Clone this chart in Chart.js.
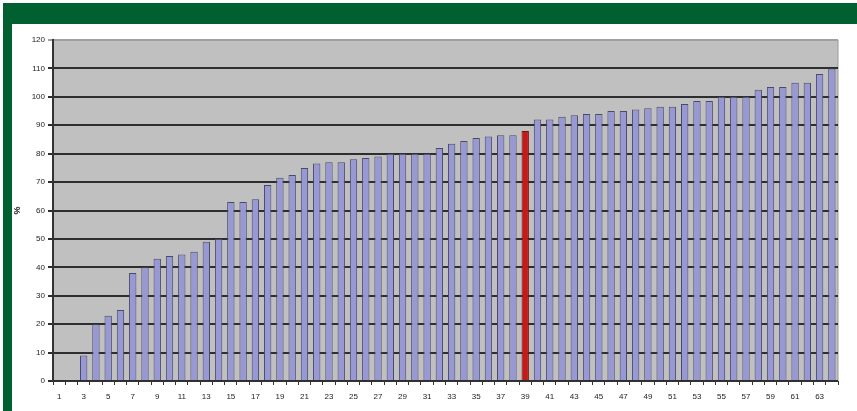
<!DOCTYPE html>
<html>
<head>
<meta charset="utf-8">
<script src="https://cdn.jsdelivr.net/npm/chart.js@4"></script>
<style>
  body { margin: 0; background: #fff; }
  #frame {
    position: absolute; left: 3px; top: 3px;
    width: 845px; height: 387px;
    border-top: 21px solid #006030;
    border-left: 9px solid #006030;
    background: #fff;
  }
  #wrap { position: absolute; left: 0; top: 0; width: 845px; height: 387px; }
</style>
</head>
<body>
<div id="frame"><div id="wrap"><canvas id="barChart"></canvas></div></div>
<script>
// categories 1..64 (only odd ones are labelled on the axis)
var categories = [];
for (var i = 1; i <= 64; i++) categories.push(String(i));

// values in %
var values = [0, 0, 9, 20, 23, 25, 38, 40, 43, 44,
              44.5, 45.5, 49, 50, 63, 63, 64, 69, 71.5, 72.5,
              75, 76.5, 77, 77, 78, 78.5, 79, 80, 80, 80,
              80, 82, 83.5, 84.5, 85.5, 86, 86.5, 86.5, 88, 92,
              92, 93, 93.5, 94, 94, 95, 95, 95.5, 96, 96.5,
              96.5, 97.5, 98.5, 98.5, 100, 100, 100, 102.5, 103.5, 103.5,
              105, 105, 108, 110];

var highlighted = "39";
var yTicks = [0, 10, 20, 30, 40, 50, 60, 70, 80, 90, 100, 110, 120];

var fillColors = categories.map(function (c) { return c === highlighted ? '#c41a1a' : '#9898d4'; });
var edgeColors = categories.map(function (c) { return c === highlighted ? '#7a1010' : '#4a4a68'; });

// gray plot background
var plotBg = {
    id: 'plotBg',
    beforeDraw: function (chart) {
        var a = chart.chartArea, ctx = chart.ctx;
        ctx.save();
        ctx.fillStyle = '#c0c0c0';
        ctx.fillRect(a.left, a.top, a.right - a.left, a.bottom - a.top);
        ctx.strokeStyle = '#9a9a9a';
        ctx.lineWidth = 1;
        ctx.beginPath();
        ctx.moveTo(a.right, a.top);
        ctx.lineTo(a.right, a.bottom);
        ctx.stroke();
        ctx.restore();
    }
};

var ctx = document.getElementById('barChart').getContext('2d');
var chart = new Chart(ctx, {
    type: 'bar',
    data: {
        labels: categories,
        datasets: [{
            data: values,
            backgroundColor: fillColors,
            borderColor: edgeColors,
            borderWidth: 1,
            barPercentage: 0.6,
            categoryPercentage: 1.0
        }]
    },
    options: {
        responsive: true,
        maintainAspectRatio: false,
        animation: false,
        layout: { padding: { left: 0, top: 16, right: 19, bottom: 0 } },
        plugins: { legend: { display: false }, tooltip: { enabled: false } },
        scales: {
            x: {
                afterFit: function (s) { s.height = 30; },
                grid: { display: true, drawOnChartArea: false, color: '#333', tickLength: 4 },
                border: { color: '#333', width: 1 },
                ticks: {
                    autoSkip: false,
                    maxRotation: 0,
                    padding: 7,
                    color: '#222',
                    font: { family: 'Liberation Sans', size: 8 },
                    callback: function (v, i) { return i % 2 === 0 ? categories[i] : ''; }
                }
            },
            y: {
                min: 0,
                max: 120,
                afterFit: function (s) { s.width = 41; },
                afterBuildTicks: function (s) { s.ticks = yTicks.map(function (v) { return { value: v }; }); },
                grid: {
                    color: function (c) { return c.tick && c.tick.value === 120 ? '#a0a0a0' : '#2e2e2e'; },
                    lineWidth: 2,
                    tickLength: 5
                },
                border: { color: '#333', width: 2 },
                title: { display: true, text: '%', color: '#222', font: { family: 'Liberation Sans', size: 9, weight: 'bold' }, padding: 0 },
                ticks: { color: '#222', padding: 3, font: { family: 'Liberation Sans', size: 8 } }
            }
        }
    },
    plugins: [plotBg]
});
</script>
</body>
</html>
